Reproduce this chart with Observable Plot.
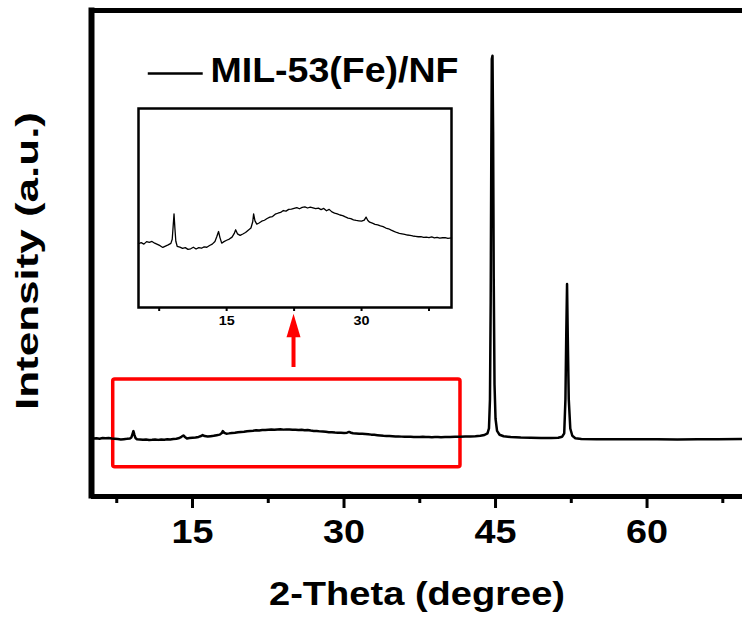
<!DOCTYPE html>
<html><head><meta charset="utf-8">
<script src="https://cdn.jsdelivr.net/npm/d3@7"></script>
<script src="https://cdn.jsdelivr.net/npm/@observablehq/plot@0.6"></script>
<style>
html,body{margin:0;padding:0;background:#fff;overflow:hidden;}
#wrap{position:relative;width:742px;height:619px;overflow:hidden;}
#wrap svg.inset{position:absolute;left:128px;top:100px;}
</style></head><body><div id="wrap"></div>
<script>
// 2-Theta (degree)
const theta = [5.2,5.5,5.8,6.1,6.4,6.7,7.0,7.3,7.6,7.9,8.2,8.5,8.8,8.95,9.05,9.15,9.25,9.35,9.5,9.8,
10.1,10.4,10.7,11.0,11.3,11.6,11.9,12.2,12.5,12.8,13.1,13.4,13.7,13.9,14.1,14.25,14.45,14.7,15.0,15.3,
15.6,15.85,16.0,16.2,16.5,16.8,17.1,17.4,17.7,17.9,18.0,18.15,18.35,18.6,18.9,19.2,19.5,19.8,20.1,20.4,
20.7,21.0,21.3,21.6,21.9,22.2,22.5,22.8,23.1,23.4,23.7,24.0,24.3,24.6,24.9,25.2,25.5,25.8,26.1,26.4,
26.7,27.0,27.3,27.6,27.9,28.2,28.5,28.8,29.1,29.4,29.7,30.0,30.3,30.5,30.7,30.9,31.2,31.5,31.8,32.1,
32.4,32.7,33.0,33.3,33.6,33.9,34.2,34.5,34.8,35.1,35.4,35.7,36.0,36.3,36.6,36.9,37.2,37.5,37.8,38.1,
38.4,38.7,39.0,39.3,39.6,40.0,40.5,41.0,41.5,42.0,42.5,43.0,43.5,43.9,44.2,44.35,44.45,44.52,44.58,44.63,
44.7,44.76,44.82,44.9,45.0,45.15,45.4,45.8,46.5,47.5,48.5,49.5,50.5,51.2,51.6,51.8,51.92,52.0,52.08,52.15,
52.25,52.4,52.6,52.9,53.5,55,57,59,61,63,65,67,69.45];
// Intensity (a.u.)
const intensity = [119.2,119.8,119.0,120.3,119.9,120.4,119.5,118.9,118.2,117.3,118.0,118.6,119.4,121.5,128,134.6,127,120.5,117.9,117.5,
116.8,117.2,116.3,116.6,117.4,116.5,117.2,116.9,117.6,117.4,118.3,119.0,120.4,122.8,125.5,122.5,119.5,120.3,121.0,121.6,
122.6,124.5,126.4,124.3,123.5,124.2,125.0,126.2,127.3,130.5,134.6,131.0,129.3,129.9,130.8,131.3,132.2,132.9,133.2,134.4,
134.9,135.3,136.3,136.0,136.9,137.0,137.4,137.8,137.2,137.9,138.2,137.6,138.0,137.7,137.3,137.5,136.8,137.4,136.2,136.9,
135.6,135.0,134.6,134.0,133.7,133.0,132.4,132.1,131.5,131.2,131.0,130.8,131.4,132.9,131.2,130.3,129.8,129.2,128.9,128.4,
128.0,127.3,126.9,126.2,125.6,125.0,124.6,124.3,124.0,123.7,123.5,123.2,123.0,122.8,122.9,122.5,122.6,122.4,122.7,122.2,
122.5,122.1,122.3,122.3,122.0,122.2,122.5,122.8,123.1,123.3,123.7,124.2,125.0,126.5,130.0,140,200,400,700,900,
907,750,450,230,160,135,127,124,122.5,121.5,121.0,120.6,120.5,121.0,123,130,200,330,437,330,
200,140,125,120,118.5,118,117.8,117.6,117.8,117.4,117.6,117.9,118.3];

const majorTicks = [15, 30, 45, 60];
const minorTicks = [7.5, 22.5, 37.5, 52.5, 67.5];
const insetTicks = [7.5, 15, 22.5, 30, 37.5];
const insetTickLabels = [15, 30];
const seriesName = "MIL-53(Fe)/NF";
const xLabel = "2-Theta (degree)";
const yLabel = "Intensity (a.u.)";
// annotations in data space
const highlightBox = [{x1: 7.15, x2: 41.53, y1: 60.3, y2: 240.7}];
const arrowShaft = [{x: 25, y1: 265.4, y2: 330}];
const arrowTip = [{x: 25, y: 327.8}];
const legendSample = [{x1: 10.62, x2: 16.06, y: 870.4}];

const rows = theta.map((t, i) => ({t, v: intensity[i]}));
const insetRows = rows.filter(d => d.t <= 40);
const FONT = '"Liberation Sans", Arial, Helvetica, sans-serif';
const arrowHead = {draw(ctx) { ctx.moveTo(0, -23.4); ctx.lineTo(7, 0); ctx.lineTo(-7, 0); ctx.closePath(); }};

const main = Plot.plot({
  width: 742, height: 619,
  marginLeft: 91, marginRight: 0, marginTop: 10, marginBottom: 123,
  style: {fontFamily: FONT, background: "transparent", color: "#000"},
  x: {domain: [5, 69.45], axis: null},
  y: {domain: [0, 1000], axis: null},
  marks: [
    Plot.rect(highlightBox, {x1: "x1", x2: "x2", y1: "y1", y2: "y2", fill: "none", stroke: "#ff0000", strokeWidth: 3.5, rx: 2}),
    Plot.ruleX(arrowShaft, {x: "x", y1: "y1", y2: "y2", stroke: "#ff0000", strokeWidth: 4}),
    Plot.dot(arrowTip, {x: "x", y: "y", symbol: arrowHead, fill: "#ff0000", stroke: "none"}),
    Plot.line(rows, {x: "t", y: "v", stroke: "#000", strokeWidth: 2.5}),
    Plot.ruleX([5], {stroke: "#000", strokeWidth: 6, insetTop: -2.5, insetBottom: -2.5}),
    Plot.ruleY([0, 1000], {stroke: "#000", strokeWidth: 5}),
    Plot.axisX({ticks: majorTicks, tickSize: 12, tickPadding: 10, strokeWidth: 3, fontSize: 34, fontWeight: "bold", label: null}),
    Plot.axisX({ticks: minorTicks, tickSize: 7, strokeWidth: 3, text: null, label: null}),
    Plot.text([xLabel], {frameAnchor: "bottom", textAnchor: "middle", lineAnchor: "bottom", dy: 108, fontSize: 34, fontWeight: "bold"}),
    Plot.text([yLabel], {frameAnchor: "left", textAnchor: "middle", lineAnchor: "bottom", rotate: -90, dx: -54, dy: 7.5, fontSize: 31, fontWeight: "bold"}),
    Plot.ruleY(legendSample, {y: "y", x1: "x1", x2: "x2", stroke: "#000", strokeWidth: 2.5}),
    Plot.text([seriesName], {frameAnchor: "top-left", textAnchor: "start", lineAnchor: "bottom", dx: 119, dy: 71.7, fontSize: 35, fontWeight: "bold"})
  ]
});

const inset = Plot.plot({
  width: 333, height: 236,
  marginLeft: 10, marginRight: 10, marginTop: 8, marginBottom: 29,
  style: {fontFamily: FONT, background: "transparent", color: "#000"},
  x: {domain: [5.2, 40], axis: null},
  y: {domain: [86.4, 188.8], axis: null},
  marks: [
    Plot.line(insetRows, {x: "t", y: "v", stroke: "#000", strokeWidth: 1.3}),
    Plot.frame({stroke: "#000", strokeWidth: 2.5}),
    Plot.axisX({ticks: insetTicks, tickFormat: d => insetTickLabels.includes(d) ? String(d) : "", tickSize: 4, tickPadding: 4, strokeWidth: 2, fontSize: 13, fontWeight: "bold", label: null})
  ]
});
inset.classList.add("inset");

const wrap = document.getElementById("wrap");
wrap.appendChild(main);
wrap.appendChild(inset);

function stretch(svg, content, len) {
  d3.select(svg).selectAll("text")
    .filter(function () { return this.textContent === content; })
    .attr("textLength", len).attr("lengthAdjust", "spacingAndGlyphs");
}
majorTicks.forEach(t => stretch(main, String(t), 42));
stretch(main, xLabel, 296);
stretch(main, yLabel, 298);
stretch(main, seriesName, 248);
insetTickLabels.forEach(t => stretch(inset, String(t), 16));
</script></body></html>
